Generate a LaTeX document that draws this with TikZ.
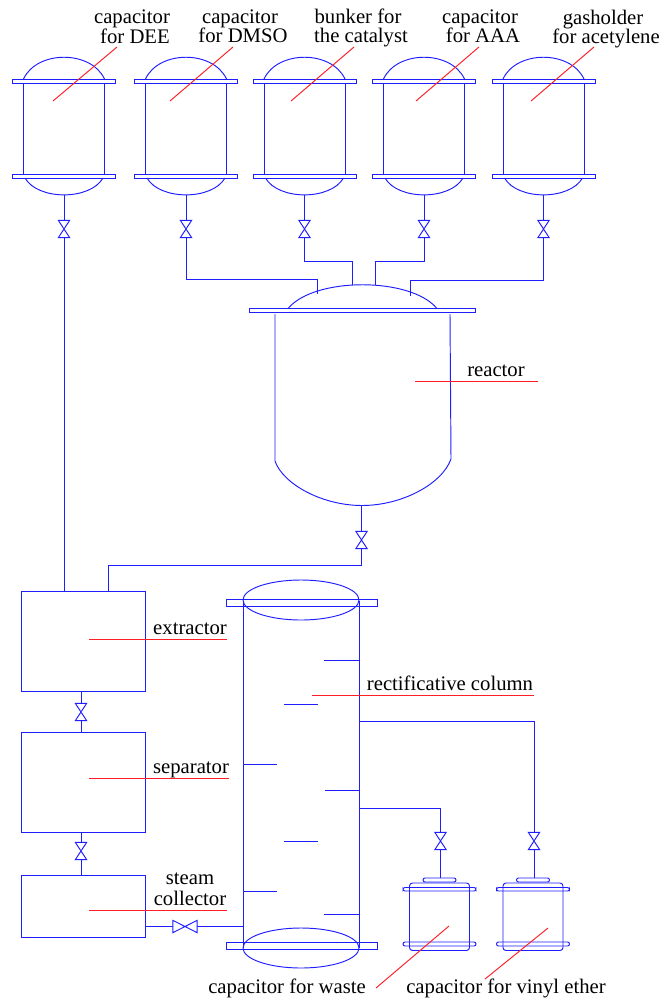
\documentclass[tikz,border=0pt]{standalone}
\usepackage{fontspec}
\setmainfont{Liberation Serif}
\usetikzlibrary{calc}
\definecolor{pipeblue}{RGB}{30,30,255}
\definecolor{leadred}{RGB}{255,30,40}
\tikzset{
  pipe/.style={draw=pipeblue,line width=0.95pt,line join=miter},
  leader/.style={draw=leadred,line width=0.95pt},
  unitbox/.style={draw=pipeblue,line width=0.95pt,rectangle,minimum width=124pt,inner sep=0pt},
  valvebox/.style={rectangle,inner sep=0pt,minimum width=11pt,minimum height=17pt},
  hvalvebox/.style={rectangle,inner sep=0pt,minimum width=24pt,minimum height=12pt},
  lab/.style={font=\fontsize{20.7}{20}\selectfont,anchor=base,text=black,inner sep=0pt},
}
% vertical valve
\newcommand{\vvalve}[3]{%
  \node[valvebox] (#1) at (#2,#3) {};
  \draw[pipe] (#1.north west)--(#1.north east)--(#1.south west)--(#1.south east)--cycle;
}
% top storage tank: name, centre x
\newcommand{\toptank}[2]{%
  \begin{scope}[shift={(#2,0)}]
    \draw[pipe] (-51.5,79) rectangle (51.5,83.5);
    \draw[pipe] (-51.5,174) rectangle (51.5,178);
    \draw[pipe] (-40.5,83.5) -- (-40.5,174) (40.5,83.5) -- (40.5,174);
    \draw[pipe] (-40.5,79) .. controls (-27,50) and (27,50) .. (40.5,79);
    \draw[pipe] (-39,178) .. controls (-26,200.5) and (26,200.5) .. (39,178);
    \coordinate (#1out) at (0,195);
  \end{scope}
}
% small tank: name, centre x
\newcommand{\smalltank}[2]{%
  \begin{scope}[shift={(#2,0)}]
    \draw[pipe,rounded corners=2pt] (-16.5,878) rectangle (16.5,882);
    \draw[pipe,rounded corners=3pt] (-30,883) rectangle (30,950.5);
    \draw[pipe,rounded corners=2pt] (-36.5,887.5) rectangle (36.5,891);
    \draw[pipe,rounded corners=2pt] (-36.5,942) rectangle (36.5,946);
    \coordinate (#1in) at (0,878);
  \end{scope}
}
\begin{document}
\begin{tikzpicture}[x=1pt,y=-1pt]
\useasboundingbox (0,0) rectangle (662,999);
\fill[white] (0,0) rectangle (662,999);

% storage tanks
\toptank{ta}{64}
\toptank{tb}{186}
\toptank{tc}{304.5}
\toptank{td}{424}
\toptank{te}{543.5}

% valves under tanks
\vvalve{va}{64}{229}
\vvalve{vb}{186}{229}
\vvalve{vc}{304.5}{229}
\vvalve{vd}{424}{229}
\vvalve{ve}{543.5}{229}

% reactor
\draw[pipe] (249,308) rectangle (475,312.5);
\draw[pipe] (288.5,308) .. controls (315,277) and (410,277) .. (436.5,308);
\draw[pipe] (275,314) -- (275,461) .. controls (283,484) and (322,505.5) .. (362,505.5)
            .. controls (402,505.5) and (442,484) .. (451,459) -- (450,314);
\coordinate (rb) at (317,293.5);
\coordinate (rc) at (352,285);
\coordinate (rd) at (375,285);
\coordinate (re) at (410,296);
\coordinate (rout) at (361.5,505.5);
\vvalve{vr}{361.5}{540}

% extractor etc.
\node[unitbox,minimum height=100pt] (ext) at (83,641) {};
\node[unitbox,minimum height=100pt] (sep) at (83,782) {};
\node[unitbox,minimum height=62pt] (steam) at (83,906) {};
\vvalve{vx}{81}{712}
\vvalve{vy}{81}{851}
\coordinate (extin) at (108,591);
\coordinate (extta) at (64,591);

% column
\draw[pipe] (226,599) rectangle (377,606);
\draw[pipe] (226,942) rectangle (377,949);
\draw[pipe] (301,600) ellipse [x radius=58,y radius=20];
\draw[pipe] (301,948) ellipse [x radius=58,y radius=20];
\draw[pipe] (243.5,601) -- (243.5,948) (359,601) -- (359,948);
\draw[pipe] (324,660) -- (359,660);
\draw[pipe] (284,704) -- (318,704);
\draw[pipe] (243.5,764) -- (277,764);
\draw[pipe] (325,790) -- (359,790);
\draw[pipe] (284,841) -- (318,841);
\draw[pipe] (243.5,891) -- (277,891);
\draw[pipe] (324,914) -- (359,914);
\coordinate (colsteam) at (243.5,926.5);
\coordinate (colhigh) at (359,721);
\coordinate (collow) at (359,808);

% steam valve
\node[hvalvebox] (vh) at (185,926.5) {};
\draw[pipe] (vh.north west)--(vh.south west)--(vh.north east)--(vh.south east)--cycle;

% small tanks
\smalltank{sa}{439.5}
\smalltank{sb}{533}
\vvalve{vs}{440.5}{841}
\vvalve{vt}{534}{841}

% connectors
\draw[pipe] (taout) -- (va.north);
\draw[pipe] (tbout) -- (vb.north);
\draw[pipe] (tcout) -- (vc.north);
\draw[pipe] (tdout) -- (vd.north);
\draw[pipe] (teout) -- (ve.north);
\draw[pipe] (va.south) -- (extta);
\draw[pipe] (vb.south) |- (317,279) -- (rb);
\draw[pipe] (vc.south) |- (352,261) -- (rc);
\draw[pipe] (vd.south) |- (375,261) -- (rd);
\draw[pipe] (ve.south) |- (410,280) -- (re);
\draw[pipe] (rout) -- (vr.north);
\draw[pipe] (vr.south) |- (108,565) -- (extin);
\draw[pipe] (ext.south -| vx) -- (vx.north);
\draw[pipe] (vx.south) -- (sep.north -| vx);
\draw[pipe] (sep.south -| vy) -- (vy.north);
\draw[pipe] (vy.south) -- (steam.north -| vy);
\draw[pipe] (steam.east |- vh) -- (vh.west);
\draw[pipe] (vh.east) -- (colsteam);
\draw[pipe] (colhigh) -| (vt.north);
\draw[pipe] (collow) -| (vs.north);
\draw[pipe] (vs.south) -- (vs.south |- sain);
\draw[pipe] (vt.south) -- (vt.south |- sbin);

% labels
\node[lab] (lta) at (132,23.5) {capacitor};
\node[lab] (ltb) at (135,43) {for DEE};
\node[lab] (lua) at (240,23) {capacitor};
\node[lab] (lub) at (243,42.5) {for DMSO};
\node[lab] (lva) at (358,23) {bunker for};
\node[lab] (lvb) at (361,42.5) {the catalyst};
\node[lab] (lwa) at (480,23) {capacitor};
\node[lab] (lwb) at (483,42.5) {for AAA};
\node[lab] (lxa) at (603,24) {gasholder};
\node[lab] (lxb) at (606,43) {for acetylene};
\node[lab] (lr) at (496,376) {reactor};
\node[lab] (lx) at (190,634) {extractor};
\node[lab] (ls) at (191,773) {separator};
\node[lab] (lsa) at (190,884) {steam};
\node[lab] (lsb) at (190,905) {collector};
\node[lab] (lc) at (450,690) {rectificative column};
\node[lab] (lw) at (287,993.5) {capacitor for waste};
\node[lab] (lv) at (506,993.5) {capacitor for vinyl ether};

% leaders
\coordinate (a1) at (53,101);  \coordinate (a2) at (117,47);
\coordinate (b1) at (170,101); \coordinate (b2) at (233,47);
\coordinate (c1) at (291,101); \coordinate (c2) at (354,47);
\coordinate (d1) at (416,101); \coordinate (d2) at (479,47);
\coordinate (e1) at (531,101); \coordinate (e2) at (594,47);
\coordinate (r1) at (415,381); \coordinate (r2) at (538,381);
\coordinate (x1) at (89,639);  \coordinate (x2) at (227,639);
\coordinate (s1) at (89,778);  \coordinate (s2) at (229,778);
\coordinate (m1) at (89,910);  \coordinate (m2) at (227,910);
\coordinate (k1) at (312,695); \coordinate (k2) at (534,695);
\coordinate (w1) at (376,988); \coordinate (w2) at (449,926);
\coordinate (y1) at (485,979); \coordinate (y2) at (548,928);
\draw[leader] (a1)--(a2);
\draw[leader] (b1)--(b2);
\draw[leader] (c1)--(c2);
\draw[leader] (d1)--(d2);
\draw[leader] (e1)--(e2);
\draw[leader] (r1)--(r2);
\draw[leader] (x1)--(x2);
\draw[leader] (s1)--(s2);
\draw[leader] (m1)--(m2);
\draw[leader] (k1)--(k2);
\draw[leader] (w1)--(w2);
\draw[leader] (y1)--(y2);
\end{tikzpicture}
\end{document}
